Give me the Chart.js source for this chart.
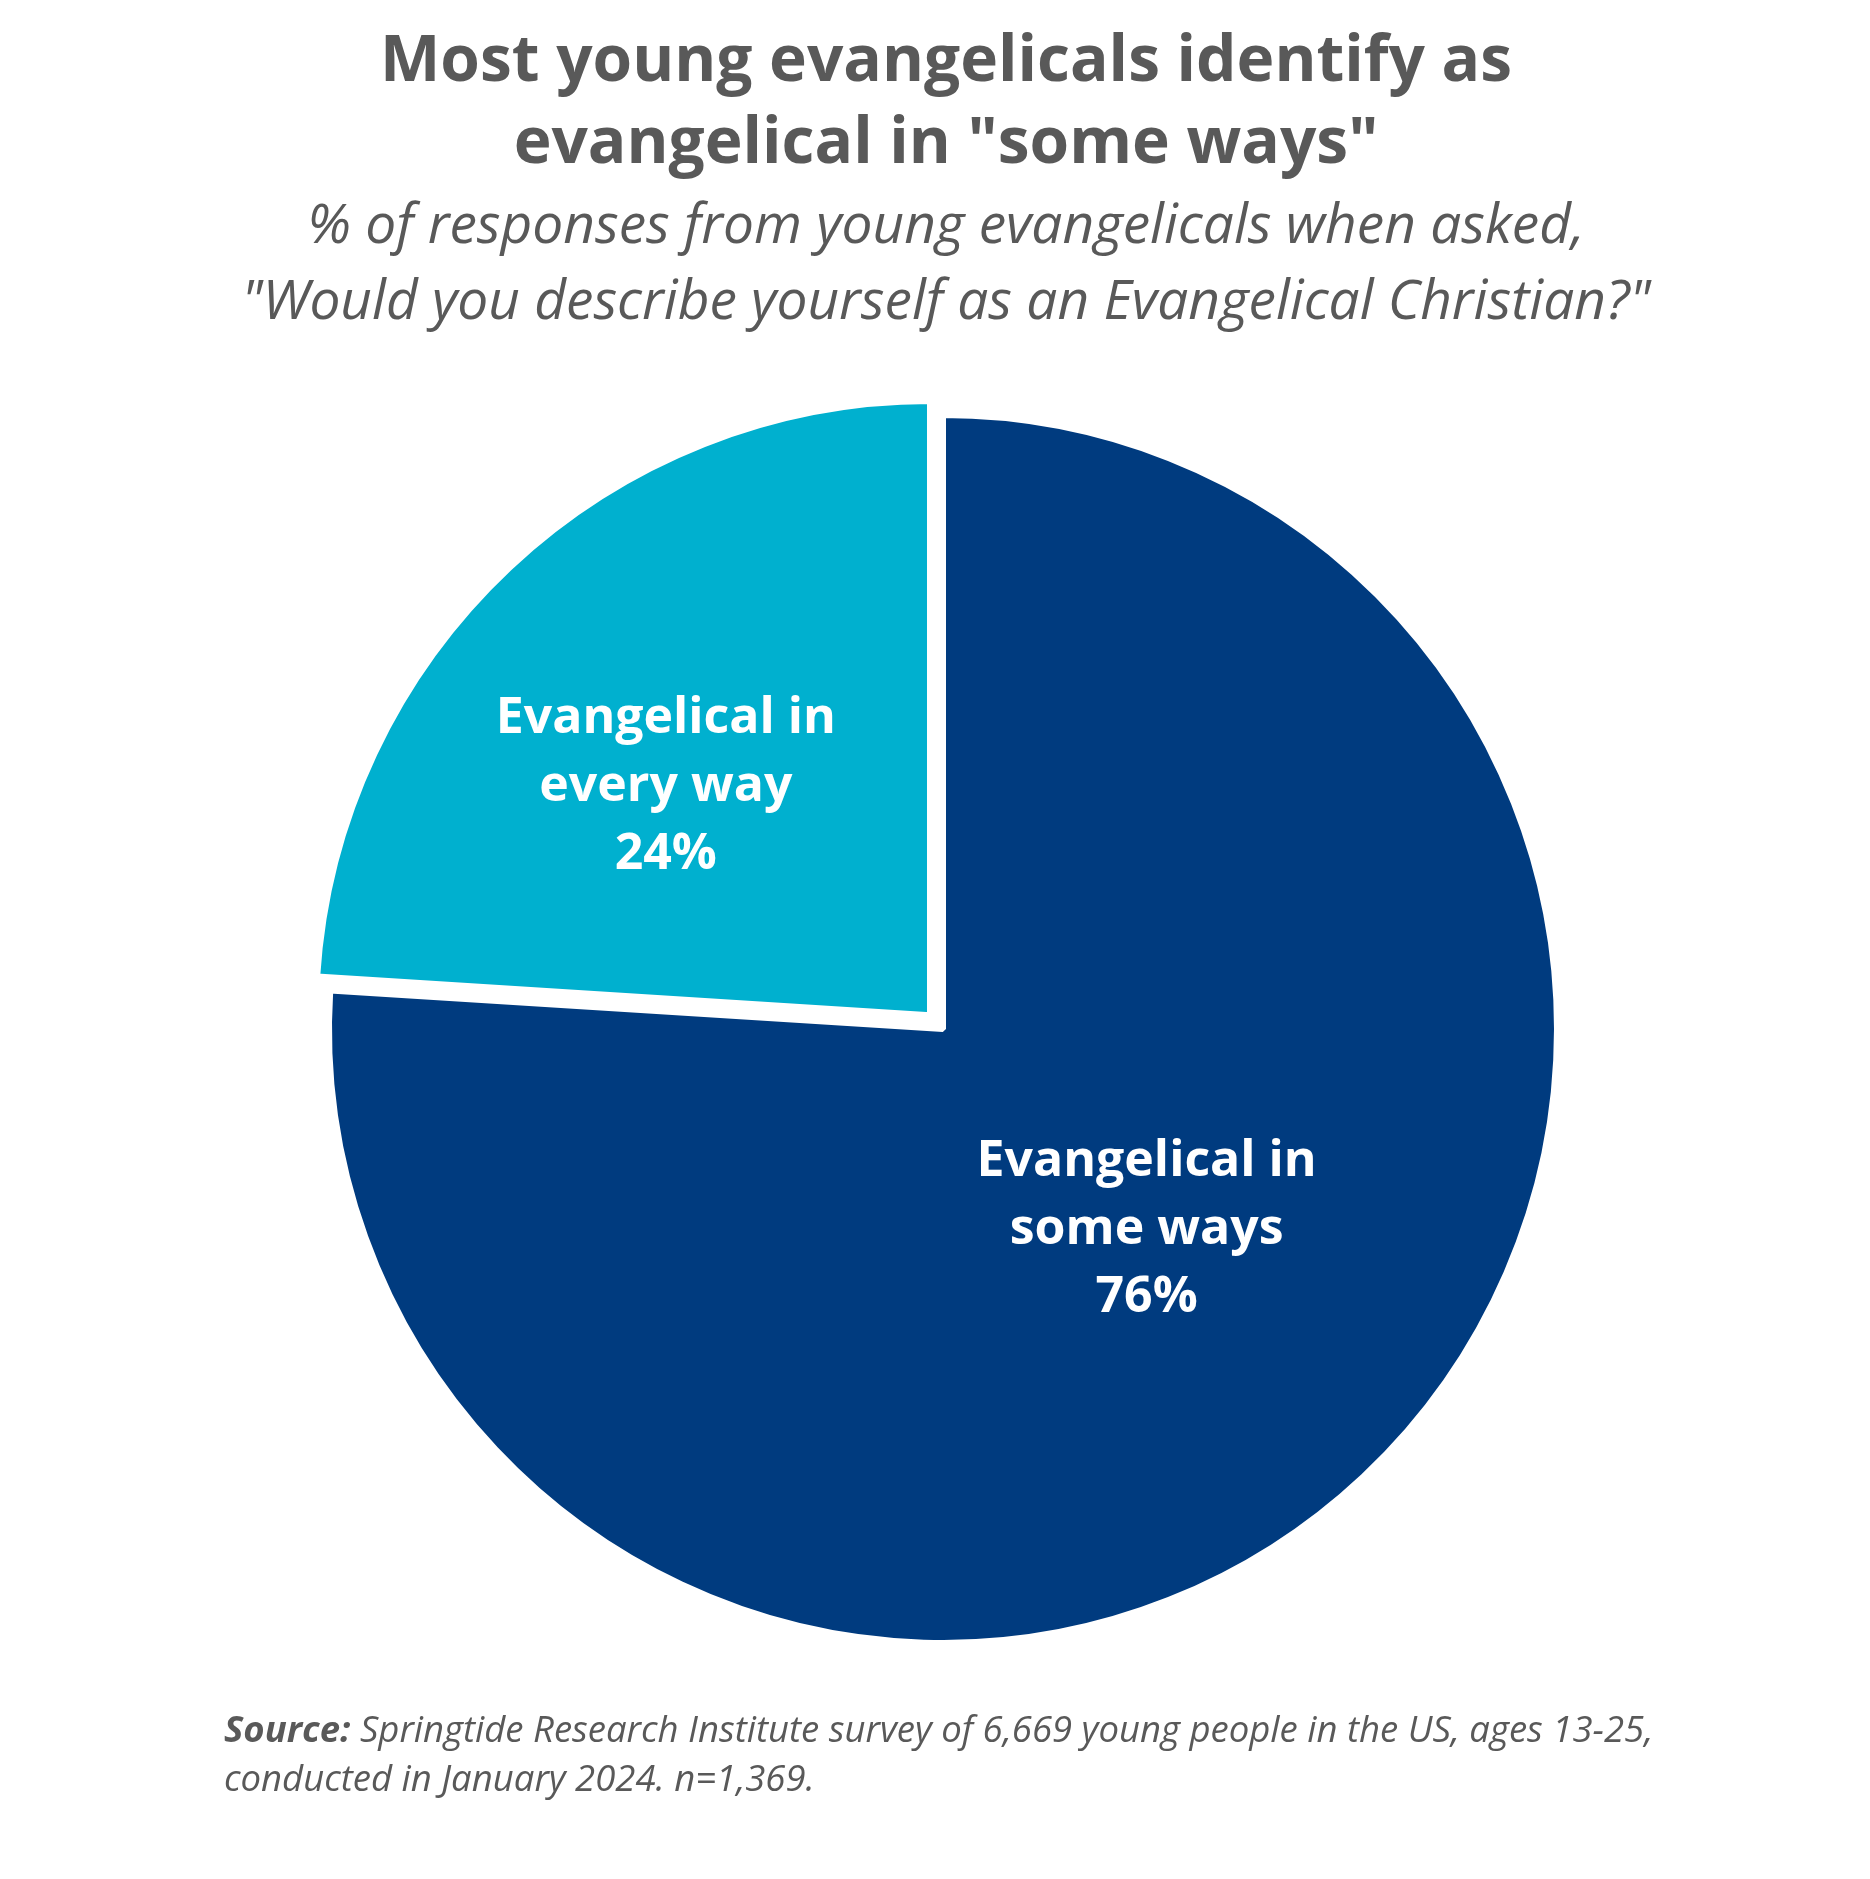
<!DOCTYPE html>
<html>
<head>
<meta charset="utf-8">
<script src="https://cdn.jsdelivr.net/npm/chart.js@4.4.1/dist/chart.umd.min.js"></script>
<style>
  html, body { margin: 0; padding: 0; background: #ffffff; }
  body { width: 1870px; height: 1879px; position: relative; overflow: hidden; font-family: "Open Sans", sans-serif; color: #595959; }
  #title { position: absolute; left: 22px; width: 1848px; top: 16px; text-align: center; font-weight: 700; font-size: 64px; line-height: 82px; }
  #subtitle { position: absolute; left: 22px; width: 1848px; top: 184px; text-align: center; font-style: italic; font-size: 55px; line-height: 75.5px; }
  #source { position: absolute; left: 224px; top: 1704px; font-style: italic; font-size: 36.5px; line-height: 49px; }
  #source b { font-weight: 700; }
  #wrap { position: absolute; left: 0; top: 0; width: 1870px; height: 1879px; }
</style>
</head>
<body>
<div id="wrap"><canvas id="c"></canvas></div>
<div id="title">Most young evangelicals identify as<br>evangelical in "some ways"</div>
<div id="subtitle">% of responses from young evangelicals when asked,<br>"Would you describe yourself as an Evangelical Christian?"</div>
<div id="source"><b>Source:</b> Springtide Research Institute survey of 6,669 young people in the US, ages 13-25,<br>conducted in January 2024. n=1,369.</div>
<script>
// ---- data ----
const categories = ["Evangelical in some ways", "Evangelical in every way"];
const labelLines = [["Evangelical in", "some ways"], ["Evangelical in", "every way"]];
const values = [76, 24];
const colors = ["#003B7F", "#00B0CF"];

const sliceLabels = {
  id: 'sliceLabels',
  afterDatasetsDraw(chart, args, opts) {
    const ctx = chart.ctx;
    const meta = chart.getDatasetMeta(0);
    ctx.save();
    ctx.fillStyle = '#ffffff';
    ctx.font = '700 50px "Open Sans"';
    ctx.textAlign = 'center';
    ctx.textBaseline = 'middle';
    meta.data.forEach((arc, i) => {
      const p = arc.getProps(['x', 'y', 'startAngle', 'endAngle', 'outerRadius']);
      const mid = (p.startAngle + p.endAngle) / 2;
      const shift = (arc.options.offset || 0) / 4; // Chart.js translates arcs by offset/4
      const ox = p.x + Math.cos(mid) * shift;
      const oy = p.y + Math.sin(mid) * shift;
      const a = mid + opts.angleShift[i] * Math.PI / 180;
      const r = p.outerRadius * opts.radiusFrac[i];
      const cx = ox + Math.cos(a) * r;
      const cy = oy + Math.sin(a) * r;
      const lines = labelLines[i].concat([values[i] + '%']);
      const lh = 68;
      lines.forEach((t, k) => {
        ctx.fillText(t, cx, cy + (k - (lines.length - 1) / 2) * lh);
      });
    });
    ctx.restore();
  }
};

new Chart(document.getElementById('c'), {
  type: 'pie',
  data: {
    labels: categories,
    datasets: [{
      data: values,
      backgroundColor: colors,
      borderColor: '#ffffff',
      borderWidth: 6,
      offset: [0, 76],
      hoverOffset: 0
    }]
  },
  options: {
    responsive: true,
    maintainAspectRatio: false,
    animation: false,
    radius: 614,
    layout: { padding: { left: 16, right: 0, top: 400, bottom: 221 } },
    plugins: {
      legend: { display: false },
      tooltip: { enabled: false },
      sliceLabels: { radiusFrac: [0.466, 0.569], angleShift: [-2.17, -5.93] }
    },
    events: []
  },
  plugins: [sliceLabels]
});
</script>
</body>
</html>
